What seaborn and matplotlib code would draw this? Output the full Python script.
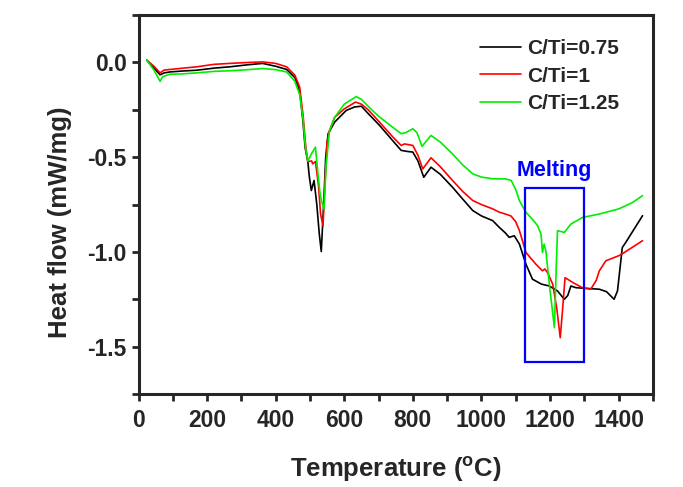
import numpy as np
import pandas as pd
import matplotlib
matplotlib.use("Agg")
import matplotlib.pyplot as plt
from matplotlib.patches import Rectangle
from matplotlib.ticker import MultipleLocator
import seaborn as sns

# DSC curves (temperature in C, heat flow in mW/mg)
temp_075 = [24, 45, 63, 75, 92, 130, 170, 220, 266, 320, 362, 400, 432, 456, 470, 479, 486, 494, 498, 504,
            512, 520, 527, 533, 540, 546, 553, 572, 606, 630, 650, 670, 703, 740, 766, 785, 800, 815, 832, 853,
            880, 916, 945, 975, 1000, 1033, 1052, 1070, 1081, 1096, 1111, 1130, 1149, 1175, 1198, 1222, 1242,
            1252, 1261, 1276, 1344, 1365, 1387, 1397, 1411, 1421, 1470]
hf_075 = [0.012, -0.03, -0.065, -0.055, -0.05, -0.045, -0.041, -0.03, -0.023, -0.012, -0.005, -0.02, -0.037,
          -0.08, -0.15, -0.3, -0.45, -0.526, -0.6, -0.676, -0.623, -0.75, -0.9, -0.998, -0.75, -0.5, -0.376,
          -0.315, -0.253, -0.235, -0.231, -0.27, -0.332, -0.41, -0.464, -0.47, -0.473, -0.52, -0.606, -0.553,
          -0.59, -0.659, -0.72, -0.782, -0.81, -0.835, -0.87, -0.9, -0.923, -0.915, -0.959, -1.065, -1.144,
          -1.17, -1.18, -1.206, -1.25, -1.23, -1.18, -1.189, -1.197, -1.21, -1.25, -1.206, -0.977, -0.95, -0.809]

temp_1 = [24, 45, 63, 75, 92, 130, 170, 220, 266, 320, 362, 400, 432, 456, 470, 480, 488, 494, 505, 508, 516,
          525, 531, 538, 545, 550, 557, 572, 600, 633, 650, 670, 703, 740, 766, 776, 800, 815, 829, 853, 880,
          916, 945, 975, 1000, 1033, 1052, 1070, 1086, 1100, 1111, 1130, 1159, 1178, 1185, 1193, 1208, 1220,
          1230, 1237, 1244, 1270, 1295, 1319, 1335, 1344, 1363, 1401, 1411, 1470]
hf_1 = [0.012, -0.02, -0.055, -0.04, -0.037, -0.03, -0.023, -0.01, -0.005, 0.0, 0.003, -0.005, -0.023, -0.067,
        -0.13, -0.28, -0.45, -0.523, -0.52, -0.535, -0.523, -0.65, -0.8, -0.862, -0.6, -0.42, -0.36, -0.29,
        -0.245, -0.209, -0.22, -0.25, -0.315, -0.39, -0.438, -0.43, -0.438, -0.49, -0.562, -0.503, -0.55,
        -0.623, -0.68, -0.729, -0.75, -0.773, -0.79, -0.8, -0.81, -0.84, -0.888, -1.003, -1.065, -1.10, -1.09,
        -1.109, -1.17, -1.3, -1.453, -1.3, -1.136, -1.165, -1.189, -1.197, -1.15, -1.10, -1.047, -1.02, -1.01,
        -0.941]

temp_125 = [24, 45, 63, 70, 92, 130, 170, 220, 266, 320, 362, 400, 432, 456, 470, 480, 487, 494, 505, 516,
            524, 530, 535, 541, 547, 557, 572, 600, 635, 650, 680, 703, 740, 766, 780, 800, 812, 827, 853, 880,
            916, 945, 975, 1000, 1033, 1072, 1087, 1100, 1111, 1130, 1150, 1164, 1174, 1178, 1183, 1188, 1200,
            1213, 1218, 1222, 1242, 1261, 1295, 1344, 1401, 1440, 1470]
hf_125 = [0.012, -0.04, -0.10, -0.075, -0.062, -0.06, -0.055, -0.047, -0.044, -0.038, -0.032, -0.038, -0.05,
          -0.10, -0.17, -0.30, -0.45, -0.52, -0.48, -0.447, -0.6, -0.7, -0.74, -0.773, -0.55, -0.36, -0.29,
          -0.22, -0.18, -0.195, -0.25, -0.288, -0.34, -0.376, -0.37, -0.35, -0.37, -0.443, -0.385, -0.42,
          -0.483, -0.54, -0.588, -0.605, -0.614, -0.615, -0.623, -0.67, -0.73, -0.791, -0.83, -0.862, -0.906,
          -1.003, -0.959, -0.994, -1.2, -1.40, -1.1, -0.888, -0.897, -0.853, -0.818, -0.80, -0.773, -0.74, -0.703]

labels = ["C/Ti=0.75", "C/Ti=1", "C/Ti=1.25"]
colors = ["black", "#ff0000", "#00ee00"]

# melting region box (temperature range, heat flow range)
melt_t = [1128, 1300]
melt_hf = [-1.58, -0.664]

df = pd.concat([
    pd.DataFrame({"T": temp_075, "HF": hf_075, "sample": labels[0]}),
    pd.DataFrame({"T": temp_1, "HF": hf_1, "sample": labels[1]}),
    pd.DataFrame({"T": temp_125, "HF": hf_125, "sample": labels[2]}),
])

sns.set_style("ticks")
plt.rcParams['font.family'] = ['Liberation Sans', 'DejaVu Sans']
plt.rcParams['font.weight'] = 'bold'

fig = plt.figure(figsize=(6.83, 4.87), dpi=100)
ax = fig.add_axes([0.2028, 0.191, 0.753, 0.778])

sns.lineplot(data=df, x="T", y="HF", hue="sample", palette=dict(zip(labels, colors)),
             estimator=None, sort=False, linewidth=1.2, ax=ax)

ax.add_patch(Rectangle((melt_t[0], melt_hf[0]), melt_t[1] - melt_t[0], melt_hf[1] - melt_hf[0],
                       fill=False, edgecolor="#0000ff", linewidth=1.6, zorder=5))
ax.text(sum(melt_t) / 2, -0.60, "Melting", color="#0000ff", fontsize=15.5, fontweight="bold",
        ha="center", va="baseline")

ax.set_xlim(0, 1500)
ax.set_ylim(-1.75, 0.25)
ax.xaxis.set_major_locator(MultipleLocator(200))
ax.xaxis.set_minor_locator(MultipleLocator(100))
ax.yaxis.set_major_locator(MultipleLocator(0.5))
ax.yaxis.set_minor_locator(MultipleLocator(0.25))
ax.yaxis.set_major_formatter(matplotlib.ticker.FormatStrFormatter("%.1f"))
ax.tick_params(which="both", direction="out", length=5, width=2, labelsize=16.5)
ax.tick_params(axis="x", pad=5.5)
for s in ax.spines.values():
    s.set_linewidth(2.2)

ax.set_xlabel("Temperature ($\\mathregular{^oC}$)", fontsize=18.5, fontweight="bold", labelpad=17)
ax.set_ylabel("Heat flow (mW/mg)", fontsize=18.5, fontweight="bold")
ax.yaxis.set_label_coords(-0.129, 0.454)

leg = ax.legend(loc="upper left", bbox_to_anchor=(0.648, 0.959), frameon=False, fontsize=15,
                handlelength=1.95, handletextpad=0.3, labelspacing=0.42, borderaxespad=0)

fig.savefig("out.png", dpi=100)
